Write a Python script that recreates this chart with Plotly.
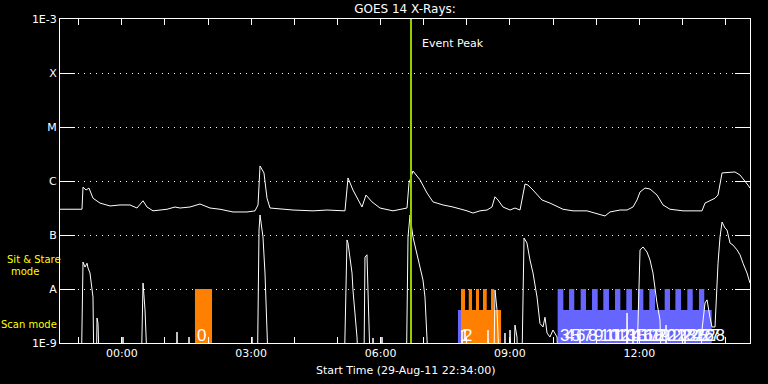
import pandas as pd
import plotly.graph_objects as go

# ---------------- data ----------------
START = pd.Timestamp("2011-08-29 22:34:00")
SPAN_MIN = 960
EVENT_PEAK = pd.Timestamp("2011-08-30 06:42:20")

# GOES long channel (1-8 A): minutes after start, flux W/m^2
long_min = [0, 30.6, 32.0, 36.2, 40.3, 45.9, 55.7, 69.6, 83.5, 97.4, 107.1, 115.5, 121.0, 129.4,
            148.9, 160.0, 167.0, 180.9, 194.8, 208.7, 222.6, 240.7, 260.2, 271.3, 275.5, 278.3,
            283.8, 288.0, 292.2, 324.2, 352.0, 371.5, 396.5, 400.7, 407.6, 420.2, 425.7, 434.1,
            445.2, 463.3, 482.8, 485.6, 491.1, 500.9, 510.6, 519.0, 532.9, 546.8, 566.3, 574.6,
            584.3, 594.1, 601.0, 605.2, 609.4, 616.3, 626.1, 633.0, 640.0, 647.0, 651.1, 658.1,
            670.6, 681.7, 699.8, 713.7, 733.2, 751.3, 758.3, 765.2, 779.1, 788.9, 797.2, 802.8,
            807.0, 813.9, 820.9, 830.6, 839.0, 848.7, 866.8, 880.7, 893.2, 897.4, 911.3, 915.5,
            921.1, 939.1, 946.1, 957.2, 960.0]
long_flux = [3.0e-7, 3.0e-7, 7.7e-7, 6.8e-7, 7.4e-7, 4.8e-7, 3.9e-7, 3.45e-7, 3.6e-7, 3.6e-7,
             3.16e-7, 4.3e-7, 3.3e-7, 2.8e-7, 3.0e-7, 3.3e-7, 3.16e-7, 3.3e-7, 3.75e-7, 3.16e-7,
             3.0e-7, 2.67e-7, 2.67e-7, 2.8e-7, 3.6e-7, 1.9e-6, 1.41e-6, 4.8e-7, 3.16e-7, 2.9e-7,
             2.8e-7, 2.9e-7, 2.8e-7, 1.14e-6, 6.8e-7, 3.3e-7, 5.5e-7, 4.1e-7, 3.16e-7, 2.8e-7,
             3.16e-7, 9.2e-7, 1.53e-6, 1.05e-6, 6.0e-7, 4.1e-7, 3.6e-7, 3.3e-7, 2.8e-7, 2.55e-7,
             2.8e-7, 2.9e-7, 3.3e-7, 5.1e-7, 4.45e-7, 3.3e-7, 2.9e-7, 3.16e-7, 2.9e-7, 8.8e-7,
             8.4e-7, 6.8e-7, 4.45e-7, 3.9e-7, 3.0e-7, 2.8e-7, 2.8e-7, 2.35e-7, 2.25e-7, 2.67e-7,
             2.9e-7, 2.9e-7, 3.3e-7, 4.45e-7, 6.25e-7, 7.4e-7, 7.1e-7, 5.5e-7, 3.6e-7, 3.0e-7,
             2.8e-7, 2.8e-7, 2.8e-7, 3.9e-7, 4.8e-7, 5.5e-7, 1.41e-6, 1.47e-6, 1.29e-6, 8.4e-7,
             7.4e-7]

# GOES short channel (0.5-4 A): minutes after start, flux W/m^2 (5e-10 = below scale)
short_min = [0, 29.9, 32.0, 34.8, 37.6, 39.0, 41.7, 44.5, 45.9, 47.0, 50.8, 51.5, 52.9, 54.3,
             87.0, 87.7, 88.3, 113.4, 115.5, 118.3, 121.0, 162.1, 162.8, 163.5, 178.8, 179.5,
             180.2, 266.4, 267.1, 267.8, 274.8, 276.9, 278.3, 282.4, 285.2, 288.0, 289.4, 395.8,
             399.3, 400.7, 403.5, 406.3, 407.6, 410.4, 413.2, 414.6, 423.0, 424.3, 427.1, 428.5,
             431.3, 434.8, 435.5, 436.2, 447.3, 448.0, 448.7, 482.1, 484.2, 487.0, 491.1, 498.1,
             505.0, 507.8, 510.6, 512.0, 558.6, 559.3, 560.0, 594.8, 595.5, 596.2, 603.8, 605.2,
             608.0, 609.4, 610.8, 618.5, 619.1, 619.8, 625.4, 626.1, 627.5, 631.6, 633.0, 635.8,
             636.5, 642.8, 645.6, 649.7, 653.9, 658.1, 663.7, 667.8, 672.0, 674.8, 677.6, 681.7,
             685.9, 691.5, 692.8, 722.8, 723.5, 724.2, 788.1, 788.9, 790.2, 796.5, 797.2, 797.9,
             802.8, 807.0, 811.2, 816.7, 820.9, 825.0, 830.6, 834.8, 836.2, 842.5, 843.2, 843.9,
             868.8, 869.6, 870.2, 891.8, 893.2, 897.4, 900.2, 904.3, 907.1, 911.3, 915.5, 918.3,
             921.1, 925.2, 928.0, 932.2, 936.4, 941.9, 946.1, 950.3, 955.8, 960.0]
short_flux = [5e-10, 5e-10, 3.16e-8, 2.55e-8, 3.0e-8, 2.45e-8, 1.98e-8, 9.6e-9, 7.1e-9, 5e-10,
              5e-10, 2.9e-9, 2.3e-9, 5e-10, 5e-10, 1.29e-9, 5e-10, 5e-10, 1.29e-8, 4.1e-9, 5e-10,
              5e-10, 1.6e-9, 5e-10, 5e-10, 1.29e-9, 5e-10, 5e-10, 1.29e-9, 5e-10, 5e-10, 1.24e-7,
              2.35e-7, 9.2e-8, 1.98e-8, 1.74e-9, 5e-10, 5e-10, 8.1e-8, 7.1e-8, 3.9e-8, 1.98e-8,
              9.6e-9, 4.1e-9, 1.29e-9, 5e-10, 5e-10, 3.9e-8, 4.3e-8, 9.6e-9, 5e-10, 5e-10,
              1.24e-9, 5e-10, 5e-10, 1.29e-9, 5e-10, 5e-10, 9.2e-8, 2.35e-7, 9.2e-8, 3.44e-8,
              1.47e-8, 7.1e-9, 1.29e-9, 5e-10, 5e-10, 1.74e-9, 5e-10, 5e-10, 1.74e-9, 5e-10,
              5e-10, 9.6e-9, 4.1e-9, 1.74e-9, 5e-10, 5e-10, 1.53e-9, 5e-10, 5e-10, 1.74e-9, 5e-10,
              5e-10, 2.15e-9, 1.29e-9, 5e-10, 5e-10, 8.8e-8, 7.1e-8, 3.44e-8, 1.98e-8, 7.1e-9,
              2.3e-9, 1.98e-9, 3.0e-9, 1.53e-9, 1.29e-9, 1.74e-9, 1.29e-9, 5e-10, 5e-10, 1.74e-9,
              5e-10, 5e-10, 3.6e-9, 5e-10, 5e-10, 1.74e-9, 5e-10, 5e-10, 5.3e-8, 6.0e-8, 4.84e-8,
              3.44e-8, 1.98e-8, 5.5e-9, 2.67e-9, 5e-10, 5e-10, 2.15e-9, 5e-10, 5e-10, 1.74e-9,
              5e-10, 5e-10, 1.74e-9, 5.5e-9, 6.3e-9, 3.0e-9, 1.98e-9, 1.98e-9, 3.0e-8, 9.2e-8,
              1.74e-7, 1.35e-7, 1.24e-7, 7.1e-8, 6.5e-8, 5.3e-8, 4.3e-8, 3.0e-8, 1.98e-8, 1.29e-8]

# Observations: number, start / end (minutes after start), mode, instrument colour
obs_id = list(range(29))
obs_start = [187.8, 553.7, 557.9, 692.4, 700.3, 708.2, 715.5, 724.4, 731.8, 740.2, 748.1, 755.9,
             763.8, 772.2, 779.6, 787.9, 795.8, 804.1, 811.6, 819.9, 827.8, 841.3, 848.7, 856.2,
             864.1, 872.8, 880.3, 889.0, 896.4]
obs_end = [211.5, 557.9, 613.6, 700.3, 708.2, 715.5, 724.4, 731.8, 740.2, 748.1, 755.9, 763.8,
           772.2, 779.6, 787.9, 795.8, 804.1, 811.6, 819.9, 827.8, 841.3, 848.7, 856.2, 864.1,
           872.8, 880.3, 889.0, 896.4, 906.7]
obs_mode = ["sit", "scan", "scan"] + ["sit", "scan"] * 13
obs_color = ["orange", "blue", "orange"] + ["blue"] * 26
# sit & stare windows inside observation 2
obs2_sit_windows = [(557.9, 563.5), (568.7, 573.2), (578.8, 583.0), (588.5, 593.7), (599.7, 603.8)]

y_tick_values = [1e-9, 1e-8, 1e-7, 1e-6, 1e-5, 1e-4, 1e-3]
y_tick_labels = ["1E-9", "A", "B", "C", "M", "X", "1E-3"]

# ---------------- styling ----------------
BASE = 1e-9
MODE_TOP = {"sit": 1e-8, "scan": 4.1e-9}
COLORS = {"orange": "#ff8000", "blue": "#6666ff"}
FONT = "DejaVu Sans"


def t(m):
    return START + pd.Timedelta(minutes=m)


def rect_trace(windows, color):
    xs, ys = [], []
    for a, b, top in windows:
        xs += [t(a), t(a), t(b), t(b), t(a), None]
        ys += [BASE, top, top, BASE, BASE, None]
    return go.Scatter(x=xs, y=ys, mode="lines", fill="toself", fillcolor=color,
                      line=dict(width=0, color=color), hoverinfo="skip")


fig = go.Figure()
for col in ["blue", "orange"]:
    wins = []
    for i in obs_id:
        if obs_color[i] == col:
            wins.append((obs_start[i], obs_end[i], MODE_TOP[obs_mode[i]]))
    if col == "orange":
        wins += [(a, b, MODE_TOP["sit"]) for a, b in obs2_sit_windows]
    fig.add_trace(rect_trace(wins, COLORS[col]))

fig.add_trace(go.Scatter(x=[t(m) for m in long_min], y=long_flux, mode="lines",
                         line=dict(color="white", width=1)))
fig.add_trace(go.Scatter(x=[t(m) for m in short_min], y=short_flux, mode="lines",
                         line=dict(color="white", width=1)))

# observation numbers
for i in obs_id:
    fig.add_annotation(x=t(obs_start[i]), y=-9, xref="x", yref="y", text=str(i),
                       showarrow=False, xanchor="left", yanchor="bottom", yshift=-4, xshift=0,
                       font=dict(family="Liberation Sans Narrow, Liberation Sans", size=17,
                                 color="white"))

# event peak line
fig.add_shape(type="line", x0=EVENT_PEAK, x1=EVENT_PEAK, xref="x", yref="paper", y0=0, y1=1,
              line=dict(color="#99cc00", width=2))
fig.add_annotation(x=EVENT_PEAK, y=(343 - 43) / 324, xref="x", yref="paper", text="Event Peak",
                   showarrow=False, xanchor="left", yanchor="middle", xshift=9,
                   font=dict(family=FONT, size=11, color="white"))

# mode labels
fig.add_annotation(x=(34 - 60) / 690, y=(343 - 259) / 324, xref="paper", yref="paper",
                   text="Sit & Stare", showarrow=False, xanchor="center", yanchor="middle",
                   font=dict(family=FONT, size=10, color="#ffff00"))
fig.add_annotation(x=(25 - 60) / 690, y=(343 - 271) / 324, xref="paper", yref="paper",
                   text="mode", showarrow=False, xanchor="center", yanchor="middle",
                   font=dict(family=FONT, size=10, color="#ffff00"))
fig.add_annotation(x=(29 - 60) / 690, y=(343 - 324) / 324, xref="paper", yref="paper",
                   text="Scan mode", showarrow=False, xanchor="center", yanchor="middle",
                   font=dict(family=FONT, size=10, color="#ffff00"))

# x-axis title
fig.add_annotation(x=0.5, y=0, xref="paper", yref="paper",
                   text="Start Time (29-Aug-11 22:34:00)", showarrow=False,
                   xanchor="center", yanchor="top", yshift=-19,
                   font=dict(family=FONT, size=11, color="white"))

hour_ticks = pd.date_range("2011-08-29 23:00", "2011-08-30 14:00", freq="1h")
hour_text = [h.strftime("%H:%M") if h.hour % 3 == 0 else "" for h in hour_ticks]

fig.update_layout(
    width=768, height=384,
    margin=dict(l=60, r=18, t=19, b=41),
    paper_bgcolor="black", plot_bgcolor="black",
    font=dict(family=FONT, size=11, color="white"),
    showlegend=False,
    title=dict(text="GOES 14 X-Rays:", x=0.5, xref="paper", xanchor="center",
               y=1 - 9 / 384, yref="container", yanchor="middle",
               font=dict(family=FONT, size=12, color="white")),
    xaxis=dict(range=[t(0), t(SPAN_MIN)], tickvals=list(hour_ticks), ticktext=hour_text,
               ticks="inside", ticklen=6, tickcolor="white", tickwidth=1,
               showline=True, linecolor="white", linewidth=1, mirror="ticks",
               showgrid=False, zeroline=False, tickfont=dict(size=11)),
    yaxis=dict(type="log", range=[-9, -3], tickvals=y_tick_values, ticktext=y_tick_labels,
               ticks="inside", ticklen=15, tickcolor="white", tickwidth=1,
               showline=True, linecolor="white", linewidth=1, mirror="ticks",
               showgrid=True, gridcolor="white", gridwidth=1, griddash="1px,5px",
               zeroline=False, tickfont=dict(size=11)),
)

fig.write_html("out.html", config={"displayModeBar": False})
